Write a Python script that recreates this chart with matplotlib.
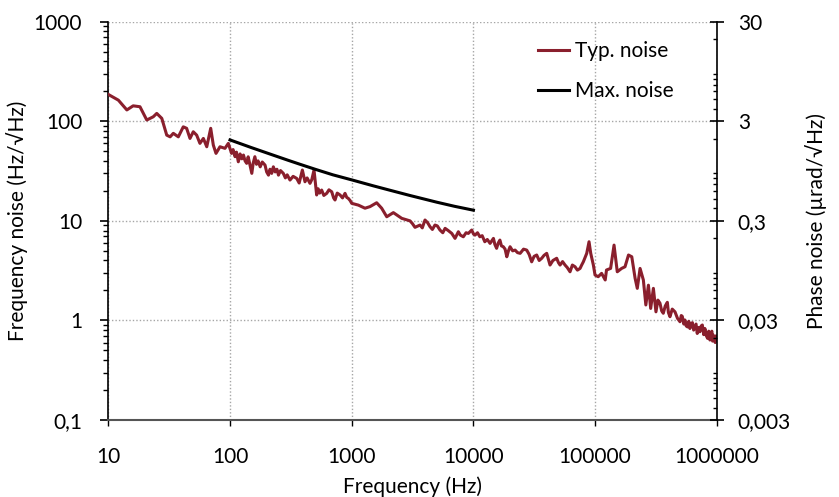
import matplotlib
matplotlib.use("Agg")
import matplotlib.pyplot as plt
from matplotlib.ticker import FixedLocator, FixedFormatter, LogLocator, NullFormatter

# ── Data ──────────────────────────────────────────────────────────────────────
typ_freq = [
    10, 12.1, 14.2, 16.0, 18.2, 20.7, 23.4, 25.0, 27.5, 30.2,
    32.2, 34.2, 37.6, 41.3, 44.0, 46.9, 49.9, 53.2, 56.6, 60.4,
    64.4, 69.4, 72.9, 76.7, 82.7, 90.9, 96.8,
    103, 106, 110, 113, 117, 121, 125, 129, 133, 137,
    141, 146, 151, 155, 160, 165, 170, 177, 184, 194,
    200, 207, 213, 220, 227, 235, 243, 250, 260, 274,
    285, 295, 311, 330, 353, 370, 393, 413, 430, 454,
    470, 490, 515, 530, 545, 566, 590, 623, 650, 685,
    710, 729, 760, 802, 840, 881, 910, 938, 970,
    1000, 1133, 1285, 1413, 1603, 1762, 1940, 2198, 2576,
    3013, 3150, 3311, 3640, 3800, 4000, 4200, 4400, 4600, 4830,
    5050, 5310, 5600, 5850, 6200, 6640, 7060, 7520, 7800, 8260,
    8700, 9080, 9680, 10000, 10300, 10800, 11300, 11800, 12400, 13000,
    13700, 14600, 15000, 15500, 16000, 16500, 17000, 17600, 18200, 18800,
    19400, 20000, 21000, 22000, 23000, 24200, 25800, 27400, 28700, 30100,
    31500, 33100, 34700, 36400, 38000, 40000, 41300, 42600, 45000, 48300,
    50000, 51500, 54000, 56600, 59000, 62200, 65000, 68400, 71500, 75200,
    77500, 80000, 85300, 89100, 92000, 96700, 99800, 106000, 113000, 121000,
    124000, 134000, 143000, 152000, 165000, 176000, 188000, 200000, 213000, 222000,
    234000, 249000, 261000, 274000, 286000, 301000, 316000, 328000, 341000, 352000,
    363000, 377000, 392000, 400000, 412000, 430000, 453000, 475000, 498000, 510000,
    520000, 535000, 547000, 560000, 575000, 588000, 601000, 615000, 630000, 645000,
    661000, 675000, 690000, 708000, 726000, 743000, 760000, 780000, 798000, 820000,
    840000, 858000, 877000, 895000, 910000, 922000, 934000, 952000, 970000, 985000,
    1000000,
]
typ_noise = [
    186, 163, 130, 143, 140, 103, 111, 120, 107, 72.6,
    69.8, 75.7, 69.8, 88, 85, 67.3, 78.5, 72.6, 60.0, 67.3,
    55.5, 85, 57.7, 47.6, 55.5, 53.5, 60.0,
    47.6, 52, 44.1, 49, 39.2, 47, 42, 45.8, 40, 37.8,
    44, 36, 30.0, 38, 44.1, 37, 40, 34.9, 39, 36.3,
    31, 28.8, 33, 30, 34.9, 31, 33, 28.8, 32, 30.0,
    27, 29, 25.7, 28, 26.7, 24, 32.4, 24.7, 27, 23.8,
    26, 32.4, 18.2, 21, 19, 20.4, 18, 18.9, 20.5, 19.6,
    17, 16.2, 19, 18.2, 17, 18.9, 17.2, 16.8, 16,
    15.0, 14.4, 13.4, 13.9, 15.2, 13.4, 11.0, 12.1, 10.6,
    10.0, 9.4, 8.61, 9.08, 8.5, 10.2, 9.6, 8.73, 8.2, 9.08,
    8.9, 8.09, 7.6, 8.41, 8.0, 7.48, 6.67, 7.78, 7.2, 6.92,
    7.6, 7.48, 8.09, 7.4, 7.19, 7.6, 6.92, 7.1, 6.17, 6.5,
    5.94, 6.67, 5.8, 5.30, 6.0, 6.41, 5.6, 5.50, 5.2, 4.36,
    5.0, 5.50, 5.0, 5.09, 4.8, 4.72, 5.2, 5.09, 4.6, 3.88,
    4.4, 4.54, 4.0, 4.21, 4.5, 4.72, 4.1, 3.60, 4.0, 4.21,
    3.8, 3.60, 3.9, 3.60, 3.4, 3.08, 3.6, 3.46, 3.2, 3.33,
    3.6, 3.88, 4.72, 6.17, 4.72, 3.60, 2.86, 2.75, 2.97, 2.55,
    3.21, 3.33, 5.71, 3.08, 3.33, 3.46, 4.54, 4.36, 2.65, 2.10,
    3.33, 2.55, 1.43, 2.26, 1.32, 2.10, 1.22, 1.6, 1.49, 1.25,
    1.18, 1.4, 1.52, 1.2, 1.09, 1.3, 1.22, 1.05, 0.97, 1.12,
    1.10, 0.92, 1.01, 0.88, 0.86, 0.98, 0.83, 0.93, 0.95, 0.80,
    0.865, 0.92, 0.74, 0.85, 0.77, 0.88, 0.90, 0.72, 0.83, 0.70,
    0.66, 0.78, 0.636, 0.74, 0.78, 0.62, 0.713, 0.66, 0.60, 0.70,
    0.636,
]

max_freq  = [100, 150, 213, 300, 376, 500, 700, 1000, 1500, 2000, 3000, 5000, 7000, 10000]
max_noise = [65, 54.4, 46.9, 40.6, 37.0, 33.0, 29.0, 25.8, 22.5, 20.5, 18.0, 15.4, 14.0, 12.8]

X_TICKS       = [10, 100, 1000, 10000, 100000, 1000000]
X_TICK_LABELS = ["10", "100", "1000", "10000", "100000", "1000000"]
Y_TICKS       = [0.1, 1, 10, 100, 1000]
Y_TICK_LABELS = ["0,1", "1", "10", "100", "1000"]
Y2_TICKS       = [0.003, 0.03, 0.3, 3, 30]
Y2_TICK_LABELS = ["0,003", "0,03", "0,3", "3", "30"]

assert len(typ_freq) == len(typ_noise)

# ── Style ─────────────────────────────────────────────────────────────────────
plt.rcParams.update({
    "font.family": ["Lato", "DejaVu Sans"],
    "font.size":   15,
})
RED  = "#8a1f2d"
GRID = "#a6a6a6"

fig = plt.figure(figsize=(8.39, 4.97), dpi=100)
ax = fig.add_axes([0.1291, 0.1549, 0.7253, 0.8014])

ax.plot(typ_freq, typ_noise, color=RED, lw=2.2, label="Typ. noise", zorder=3)
ax.plot(max_freq, max_noise, color="black", lw=2.2, label="Max. noise", zorder=4)

ax.set_xscale("log"); ax.set_yscale("log")
ax.set_xlim(10, 1e6); ax.set_ylim(0.1, 1000)

ax.xaxis.set_major_locator(FixedLocator(X_TICKS))
ax.xaxis.set_major_formatter(FixedFormatter(X_TICK_LABELS))
ax.xaxis.set_minor_locator(FixedLocator([]))
ax.yaxis.set_major_locator(FixedLocator(Y_TICKS))
ax.yaxis.set_major_formatter(FixedFormatter(Y_TICK_LABELS))
ax.yaxis.set_minor_locator(LogLocator(base=10, subs=range(2, 10)))
ax.yaxis.set_minor_formatter(NullFormatter())

ax.tick_params(axis="x", which="major", direction="out", length=4.5, width=1, pad=15)
ax.tick_params(axis="y", which="major", direction="out", length=5.8, width=1.2, pad=13)
ax.tick_params(axis="y", which="minor", direction="out", length=3.6, width=1)

ax.grid(True, which="major", color=GRID, linestyle=(0, (1, 1.5)), lw=1)
ax.spines["top"].set_visible(False)
ax.spines["right"].set_visible(False)
ax.spines["bottom"].set_color("#555555")
ax.spines["bottom"].set_linewidth(1.5)
ax.spines["left"].set_linewidth(1.2)

ax.set_xlabel("Frequency (Hz)", labelpad=7)
ax.set_ylabel("Frequency noise (Hz/\u221aHz)", labelpad=4)

# secondary axis for phase noise
ax2 = ax.twinx()
ax2.set_yscale("log")
ax2.set_ylim(0.003, 30)
ax2.yaxis.set_major_locator(FixedLocator(Y2_TICKS))
ax2.yaxis.set_major_formatter(FixedFormatter(Y2_TICK_LABELS))
ax2.yaxis.set_minor_locator(LogLocator(base=10, subs=range(2, 10)))
ax2.yaxis.set_minor_formatter(NullFormatter())
ax2.tick_params(axis="y", which="major", direction="inout", length=10, width=1.2, pad=10)
ax2.tick_params(axis="y", which="minor", direction="in", length=3, width=1)
for s in ["top", "left", "bottom"]:
    ax2.spines[s].set_visible(False)
ax2.spines["right"].set_linewidth(1.2)
ax2.set_ylabel("Phase noise (\u00b5rad/\u221aHz)", labelpad=10)

leg = ax.legend(loc="upper right", bbox_to_anchor=(0.96, 0.998), frameon=False,
                handlelength=1.5, handletextpad=0.3, labelspacing=0.95,
                fontsize=15)

fig.savefig("out.png", dpi=100)
